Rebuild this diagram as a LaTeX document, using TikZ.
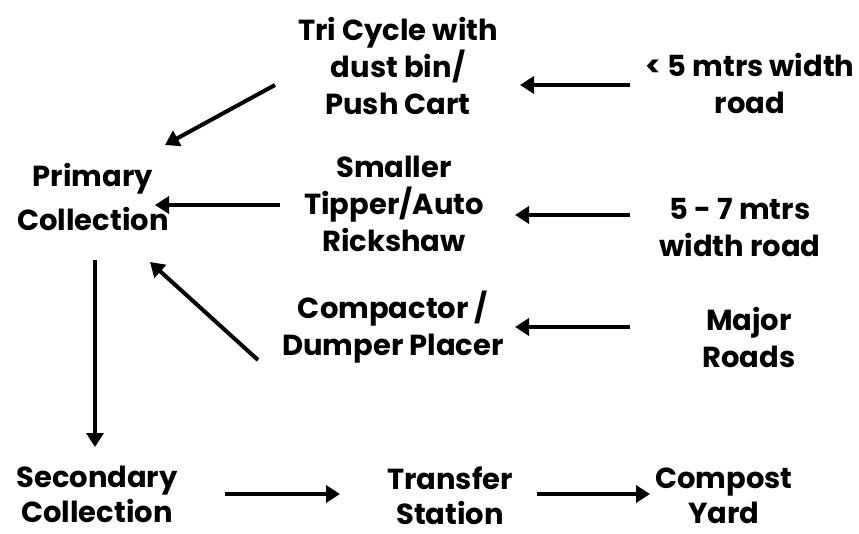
\documentclass[tikz,border=0pt]{standalone}
\usepackage{fontspec}
\setmainfont{Poppins}
\usetikzlibrary{arrows.meta,positioning}
\tikzset{lbl/.style={align=center, inner sep=0pt, font=\bfseries\fontsize{29}{37}\selectfont},
arr/.style={line width=4pt, -{Triangle[length=14pt,width=17pt]}}}

\begin{document}
\begin{tikzpicture}[x=1pt, y=-1pt]
        \useasboundingbox (0,0) rectangle (859,533);
        \node[lbl] (tri) at (398, 66) {Tri Cycle with\\dust bin/\\Push Cart};
        \node[lbl] (w5) at (750, 83) {< 5 mtrs width\\road};
        \node[lbl, font=\bfseries\fontsize{29}{44}\selectfont] (pri) at (93, 197) {Primary\\Collection};
        \node[lbl] (small) at (394, 204) {Smaller\\Tipper/Auto\\Rickshaw};
        \node[lbl] (w57) at (740, 228) {5 - 7 mtrs\\width road};
        \node[lbl] (comp) at (393, 327) {Compactor /\\Dumper Placer};
        \node[lbl] (major) at (749, 337) {Major\\Roads};
        \node[lbl, font=\bfseries\fontsize{29}{35}\selectfont] (sec) at (97, 494) {Secondary\\Collection};
        \node[lbl, font=\bfseries\fontsize{29}{35}\selectfont] (trans) at (450, 496) {Transfer\\Station};
        \node[lbl, font=\bfseries\fontsize{29}{35}\selectfont] (yard) at (724, 496) {Compost\\Yard};
        
        \draw[arr] ([shift={(-123,19)}]tri.center) -- ([shift={(72,-52)}]pri.center);
        \draw[arr] ([shift={(-120,2)}]w5.center) -- ([shift={(122,19)}]tri.center);
        \draw[arr] ([shift={(-114,1)}]small.center) -- ([shift={(62,8)}]pri.center);
        \draw[arr] ([shift={(-110,-13)}]w57.center) -- ([shift={(121,11)}]small.center);
        \draw[arr] ([shift={(-119,-10)}]major.center) -- ([shift={(122,0)}]comp.center);
        \draw[arr] ([shift={(-135,33)}]comp.center) -- ([shift={(57,65)}]pri.center);
        \draw[arr] ([shift={(2,63)}]pri.center) -- ([shift={(-2,-47)}]sec.center);
        \draw[arr] ([shift={(128,0)}]sec.center) -- ([shift={(-110,-2)}]trans.center);
        \draw[arr] ([shift={(87,-2)}]trans.center) -- ([shift={(-74,-2)}]yard.center);
    \end{tikzpicture}
\end{document}
